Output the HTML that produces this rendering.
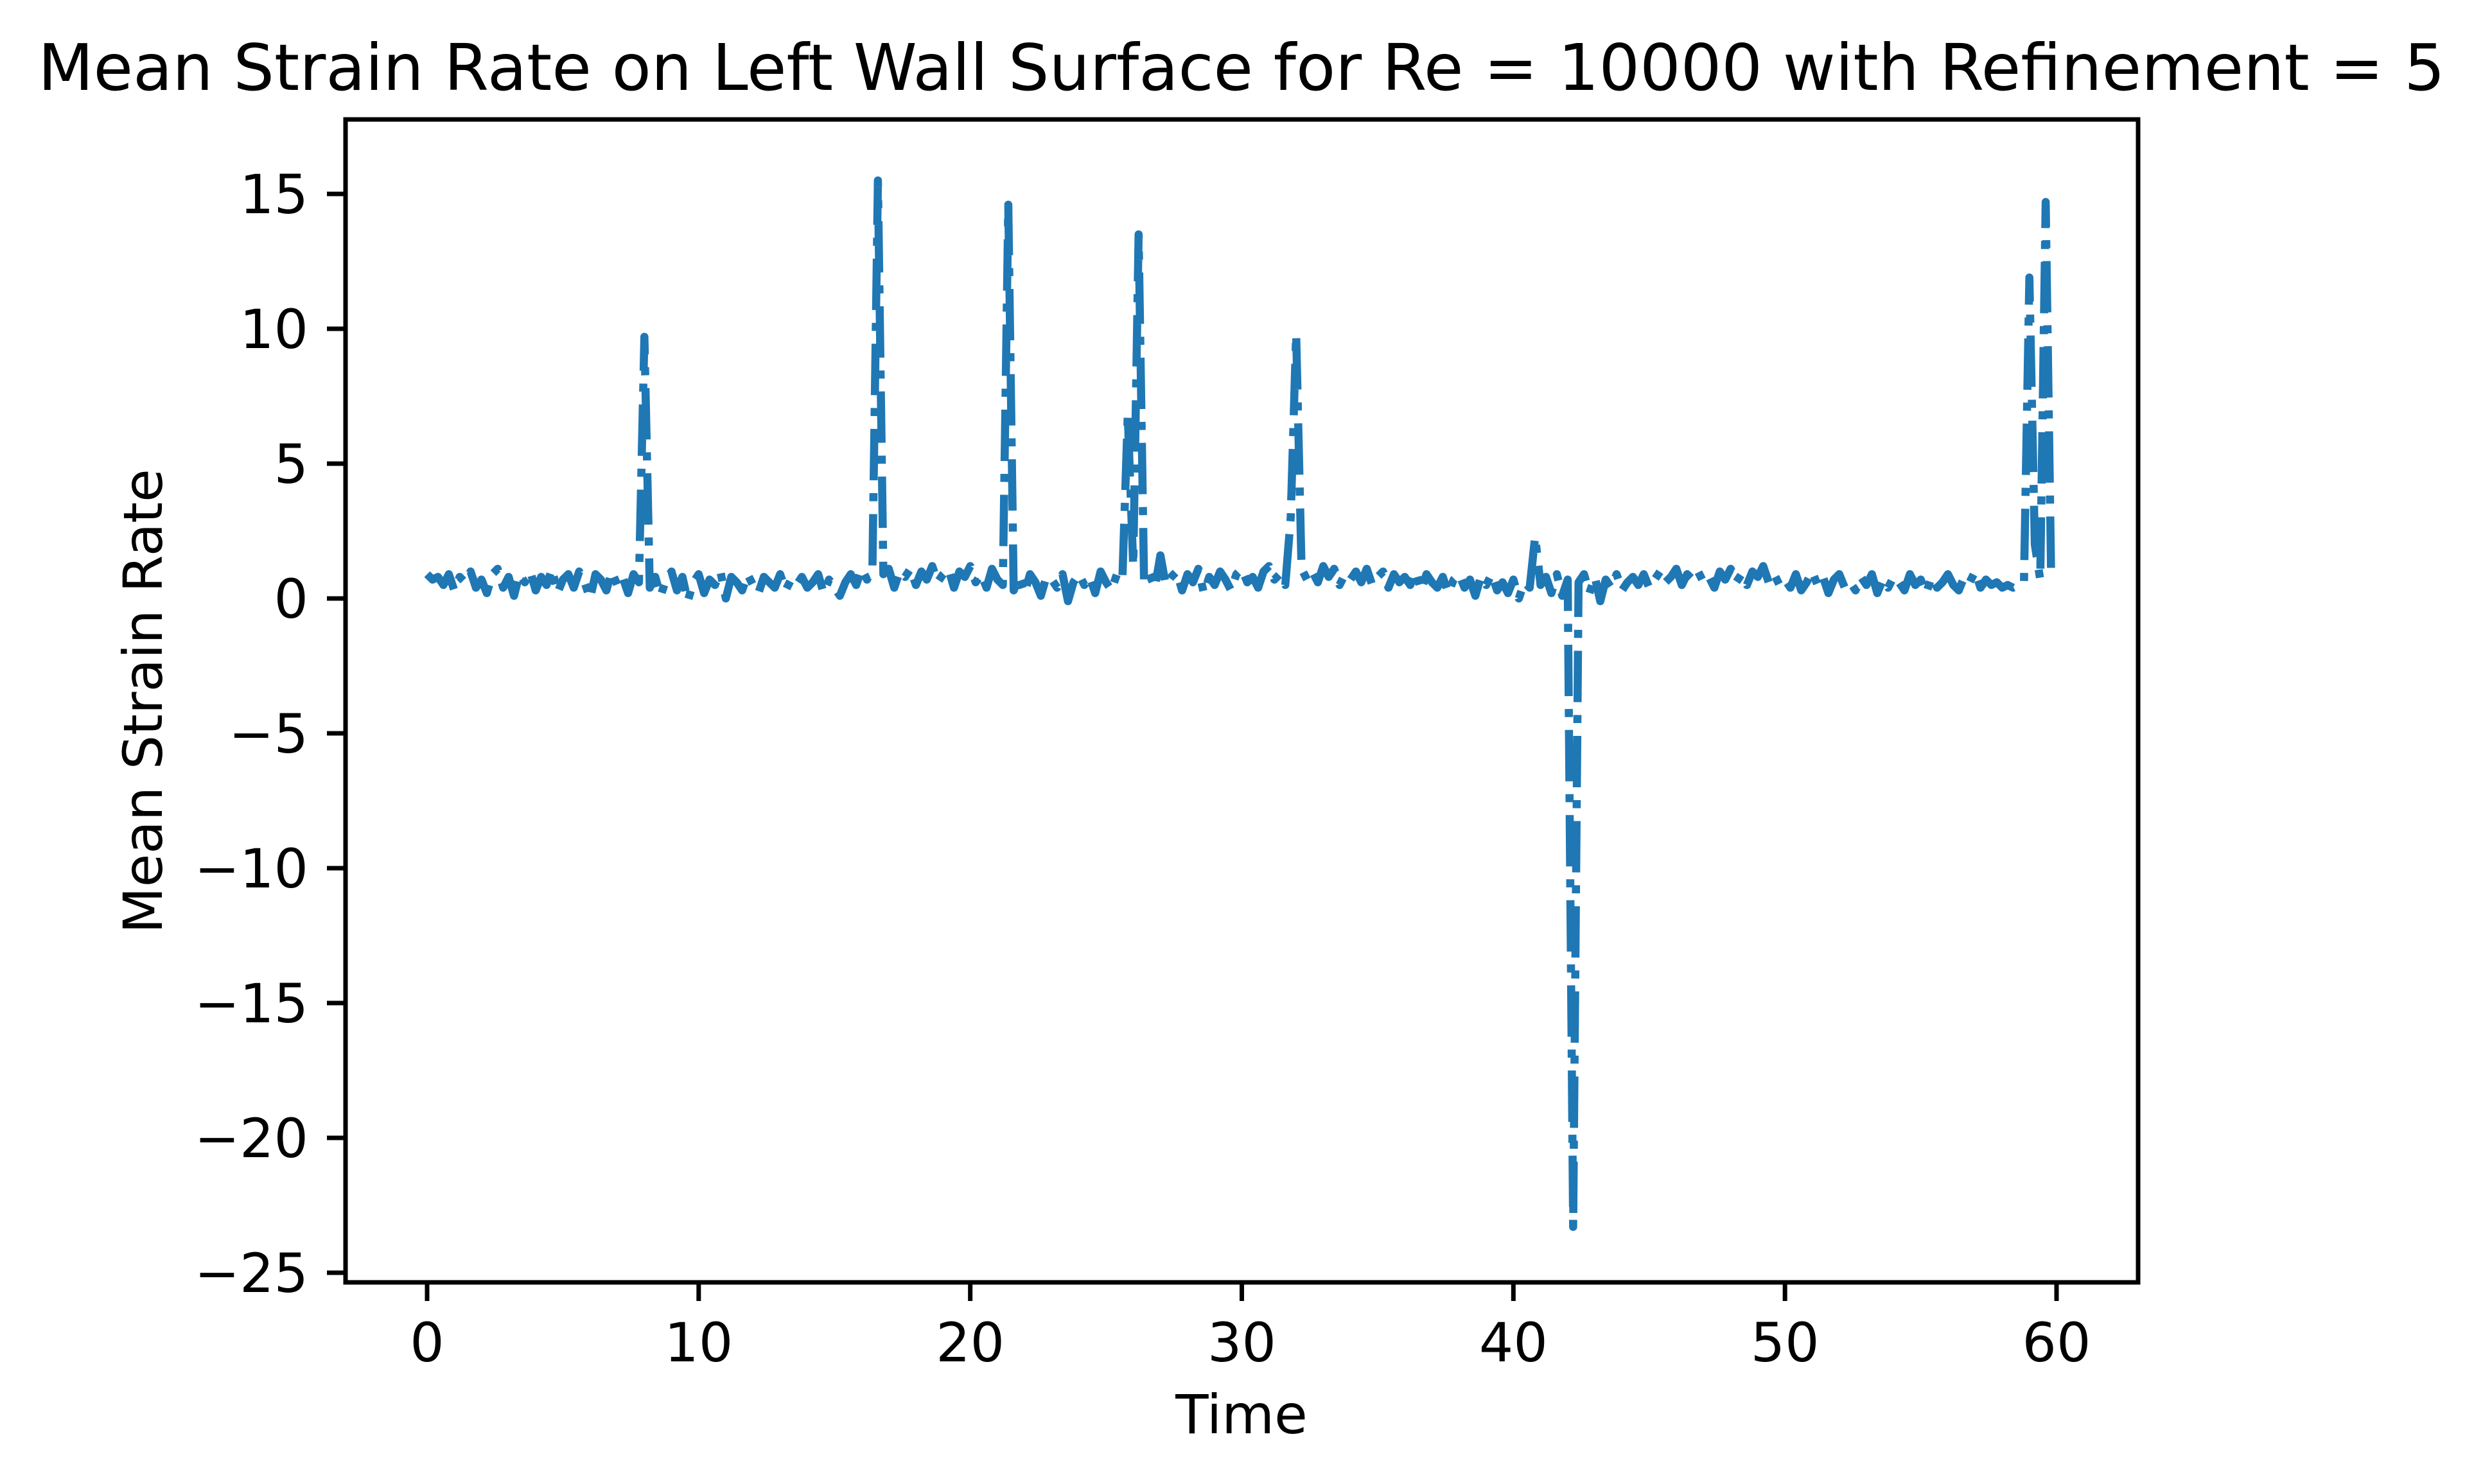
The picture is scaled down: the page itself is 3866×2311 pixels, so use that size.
<!DOCTYPE html>
<html><head><meta charset="utf-8"><style>
html,body{margin:0;padding:0;background:#fff}
svg{display:block}
text{font-family:"DejaVu Sans","Liberation Sans",sans-serif;fill:#000}
</style></head><body>
<svg id="chart" width="3866" height="2311" viewBox="0 0 3866 2311" xmlns="http://www.w3.org/2000/svg">
<rect width="3866" height="2311" fill="#fff"/>
<text x="1933" y="140" font-size="100" text-anchor="middle">Mean Strain Rate on Left Wall Surface for Re = 10000 with Refinement = 5</text>
<g id="series"></g>
<rect x="538" y="186" width="2791" height="1811" fill="none" stroke="#000" stroke-width="7"/>
<g id="xticks"></g>
<g id="yticks"></g>
<text x="1933" y="2232" font-size="84" text-anchor="middle">Time</text>
<text x="0" y="0" font-size="84" text-anchor="middle" transform="translate(252,1092) rotate(-90)">Mean Strain Rate</text>
</svg>
<script>
const xTicks = [0,10,20,30,40,50,60];
const yTicks = [-25,-20,-15,-10,-5,0,5,10,15];
const timeStep = 0.2;
const strainValues = [
0.9,0.7,0.8,0.5,0.9,0.3,0.8,0.6,1.0,0.4,
0.7,0.2,0.9,1.1,0.4,0.8,0.1,0.9,0.6,1.0,
0.3,0.8,0.5,1.1,0.2,0.7,0.9,0.4,1.0,0.6,
0.0,0.9,0.7,0.3,1.0,0.5,0.8,0.2,0.9,0.6,
9.7,0.4,0.8,0.1,0.7,1.0,0.3,0.8,-0.1,0.6,
0.9,0.2,0.7,0.5,1.0,0.0,0.8,0.6,0.3,0.9,
0.5,0.2,0.8,0.6,0.4,0.9,0.3,0.7,0.5,0.8,
0.4,0.6,0.9,0.2,0.7,0.4,0.1,0.6,0.9,0.5,
1.1,0.7,1.2,15.5,0.9,1.1,0.4,1.0,0.8,1.1,
0.5,1.0,0.7,1.2,0.6,0.9,1.1,0.4,1.0,0.8,
1.2,0.6,0.9,0.4,1.1,0.7,0.5,14.6,0.3,0.8,
0.2,0.9,0.6,0.1,0.8,0.7,0.4,0.9,-0.1,0.6,
0.9,0.5,0.8,0.2,1.0,0.6,0.3,0.9,0.7,6.8,
1.2,13.5,0.6,0.9,0.4,1.6,0.5,0.8,1.0,0.3,
0.9,0.6,1.1,0.2,0.8,0.5,1.0,0.7,0.3,0.9,
1.1,0.6,0.8,0.4,1.0,1.2,0.7,0.9,0.5,3.0,
9.8,1.1,0.7,1.0,0.6,1.2,0.8,1.1,0.5,0.9,
0.7,1.0,0.6,1.1,0.5,0.8,1.0,0.4,0.9,0.6,
0.8,0.5,1.0,0.3,0.9,0.6,0.4,0.8,0.2,0.7,
0.9,0.4,0.7,0.1,0.8,0.5,0.9,0.3,0.6,0.2,
0.7,0.0,0.6,0.4,2.3,0.5,0.8,0.2,0.9,0.1,
0.7,-23.3,0.6,0.9,0.2,0.8,-0.1,0.7,0.4,0.9,
0.3,0.6,0.8,0.5,0.9,0.4,0.7,1.0,0.6,0.8,
1.1,0.5,0.9,0.7,1.0,0.6,0.8,0.4,1.0,0.7,
1.1,0.6,0.9,0.5,1.0,0.8,1.2,0.6,0.9,0.5,
0.7,0.4,0.9,0.3,0.6,1.0,0.5,0.8,0.2,0.7,
0.9,0.4,0.6,0.3,0.8,0.5,0.9,0.2,0.7,0.4,
0.8,0.6,0.3,0.9,0.5,0.7,0.2,0.8,0.4,0.6,
0.9,0.5,0.3,0.8,0.6,1.0,0.4,0.7,0.5,0.6,
0.4,0.5,0.4,0.5,0.6,11.9,2.0,0.7,14.7,1.0,
0.8
];
const NS = 'http://www.w3.org/2000/svg';
function xScale(t){ return 665 + (t - 0) * (3202 - 665) / 60; }
function yScale(v){ return 932 - v * 42; }
const series = document.getElementById('series');
let d = '';
strainValues.forEach((v,i)=>{ d += (i===0?'M':'L') + xScale(i*timeStep).toFixed(1) + ',' + yScale(v).toFixed(1); });
const path = document.createElementNS(NS,'path');
path.setAttribute('d', d);
path.setAttribute('fill','none');
path.setAttribute('stroke','#1f77b4');
path.setAttribute('stroke-width','12.6');
path.setAttribute('stroke-linejoin','round');
path.setAttribute('stroke-dasharray','80,20,12.6,20');


series.appendChild(path);

const xg = document.getElementById('xticks');
xTicks.forEach(t=>{
  const x = xScale(t);
  const ln = document.createElementNS(NS,'line');
  ln.setAttribute('x1',x); ln.setAttribute('x2',x); ln.setAttribute('y1',2000); ln.setAttribute('y2',2026);
  ln.setAttribute('stroke','#000'); ln.setAttribute('stroke-width','7');
  
  
  xg.appendChild(ln);
  const tx = document.createElementNS(NS,'text');
  tx.setAttribute('x',x); tx.setAttribute('y',2120); tx.setAttribute('font-size','84'); tx.setAttribute('text-anchor','middle');
  tx.textContent = String(t);
  
  
  xg.appendChild(tx);
});
const yg = document.getElementById('yticks');
yTicks.forEach(v=>{
  const y = yScale(v);
  const ln = document.createElementNS(NS,'line');
  ln.setAttribute('x1',509); ln.setAttribute('x2',535); ln.setAttribute('y1',y); ln.setAttribute('y2',y);
  ln.setAttribute('stroke','#000'); ln.setAttribute('stroke-width','7');
  
  
  yg.appendChild(ln);
  const tx = document.createElementNS(NS,'text');
  tx.setAttribute('x',480); tx.setAttribute('y',y+30); tx.setAttribute('font-size','84'); tx.setAttribute('text-anchor','end');
  tx.textContent = v<0 ? '\u2212'+Math.abs(v) : String(v);
  
  
  yg.appendChild(tx);
});
</script>
</body></html>
